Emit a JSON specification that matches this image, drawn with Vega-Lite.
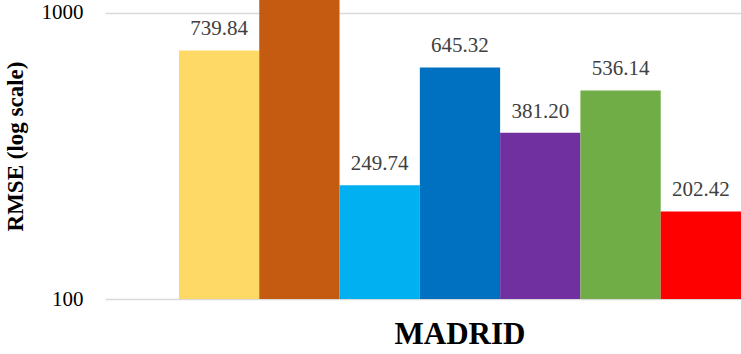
{
  "$schema": "https://vega.github.io/schema/vega-lite/v6.json",
  "autosize": {"type": "none"},
  "padding": {"left": 105, "top": 0, "right": 0, "bottom": 55},
  "width": 636,
  "height": 299,
  "background": "white",
  "config": {
    "view": {"stroke": null},
    "font": "Liberation Serif"
  },
  "data": {
    "values": [
      {"city": "MADRID", "model": "Model 1", "rmse": 739.84},
      {"city": "MADRID", "model": "Model 2", "rmse": 1250.0},
      {"city": "MADRID", "model": "Model 3", "rmse": 249.74},
      {"city": "MADRID", "model": "Model 4", "rmse": 645.32},
      {"city": "MADRID", "model": "Model 5", "rmse": 381.20},
      {"city": "MADRID", "model": "Model 6", "rmse": 536.14},
      {"city": "MADRID", "model": "Model 7", "rmse": 202.42}
    ]
  },
  "encoding": {
    "x": {
      "field": "city",
      "type": "nominal",
      "title": null,
      "scale": {"paddingInner": 0, "paddingOuter": 0.0658, "align": 1},
      "axis": {
        "domain": false,
        "ticks": false,
        "labelAngle": 0,
        "labelFont": "Liberation Serif",
        "labelFontWeight": "bold",
        "labelFontSize": 31,
        "labelColor": "#000000",
        "labelPadding": 20
      }
    },
    "xOffset": {
      "field": "model",
      "type": "nominal",
      "scale": {"paddingInner": 0, "paddingOuter": 0}
    },
    "y": {
      "field": "rmse",
      "type": "quantitative",
      "scale": {"type": "log", "domain": [100, 1110], "nice": false},
      "title": "RMSE (log scale)",
      "axis": {
        "values": [100, 1000],
        "format": "d",
        "grid": true,
        "gridColor": "#d9d9d9",
        "gridWidth": 1.5,
        "domain": false,
        "ticks": false,
        "labelFont": "Liberation Serif",
        "labelFontSize": 21,
        "labelColor": "#000000",
        "labelPadding": 22,
        "titleFont": "Liberation Serif",
        "titleFontSize": 23,
        "titleFontWeight": "bold",
        "titleColor": "#000000",
        "titleX": -90,
        "titleY": 146,
        "titleBaseline": "middle",
        "titleAlign": "center"
      }
    }
  },
  "layer": [
    {
      "mark": {"type": "bar", "clip": true},
      "encoding": {
        "y2": {"datum": 100},
        "color": {
          "field": "model",
          "type": "nominal",
          "legend": null,
          "scale": {
            "domain": ["Model 1", "Model 2", "Model 3", "Model 4", "Model 5", "Model 6", "Model 7"],
            "range": ["#FFD966", "#C55A11", "#00B0F0", "#0070C0", "#7030A0", "#70AD47", "#FF0000"]
          }
        }
      }
    },
    {
      "transform": [{"filter": "datum.rmse < 1000"}],
      "mark": {
        "type": "text",
        "baseline": "alphabetic",
        "dy": -15,
        "font": "Liberation Serif",
        "fontSize": 21,
        "color": "#404040"
      },
      "encoding": {
        "text": {"field": "rmse", "type": "quantitative", "format": ".2f"}
      }
    }
  ]
}
